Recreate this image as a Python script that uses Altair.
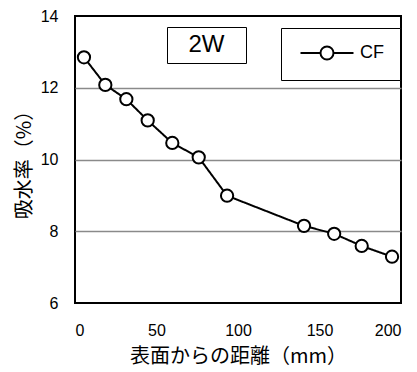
import altair as alt
import pandas as pd

# data
distance = [5.5, 18.6, 31.5, 44.6, 59.7, 75.9, 93.3, 140.5, 159.0, 175.9, 194.5]
absorption = [12.85, 12.08, 11.68, 11.09, 10.46, 10.06, 8.99, 8.15, 7.93, 7.59, 7.29]
series_name = "CF"
panel_name = "2W"
x_ticks = [0, 50, 100, 150, 200]
y_ticks = [6, 8, 10, 12, 14]

df = pd.DataFrame({
    "distance": distance,
    "absorption": absorption,
    "series": [series_name] * len(distance),
    "panel": [panel_name] * len(distance),
})

LATIN = "Liberation Sans"
CJK = "Noto Sans CJK JP"

# legend glyph: line - circle - line (offset so label sits to its right)
LEG_PATH = ("M-0.733,0L1.933,0M3.667,0L6.333,0"
            "M3.667,0A0.867,0.867,0,1,1,1.933,0A0.867,0.867,0,1,1,3.667,0Z")
# invisible spacer glyph for the "2W" box
BOX_PATH = "M-1,-1L4.583,-1L4.583,1L-1,1Z"

x_enc = alt.X(
    "distance:Q",
    scale=alt.Scale(domain=[0, 200], nice=False),
    axis=alt.Axis(values=x_ticks, title="表面からの距離（mm）", grid=False,
                  ticks=False, domain=False, labelPadding=19, titlePadding=8),
)
y_enc = alt.Y(
    "absorption:Q",
    scale=alt.Scale(domain=[6, 14], nice=False),
    axis=alt.Axis(values=y_ticks, title="吸水率（%）", grid=True,
                  gridColor="#8a8a8a", gridWidth=1.5,
                  gridOpacity={"condition": {"test": "datum.value <= 6 || datum.value >= 14", "value": 0}, "value": 1},
                  ticks=False, domain=False, labelPadding=17, titlePadding=6),
)

line = alt.Chart(df).mark_line(color="black", strokeWidth=2).encode(
    x=x_enc, y=y_enc,
    strokeDash=alt.StrokeDash(
        "panel:N", scale=alt.Scale(range=[[1, 0]]),
        legend=alt.Legend(
            title=None, orient="none", legendX=92, legendY=11,
            strokeColor="black", fillColor="white", padding=6,
            symbolType=BOX_PATH, symbolSize=576, symbolOpacity=0,
            symbolStrokeWidth=0,
            labelOffset=9.5, labelAlign="center",
            labelFont=LATIN, labelFontSize=24, labelColor="black",
        ),
    ),
)

points = alt.Chart(df).mark_point(
    shape="circle", filled=False, fill="white", fillOpacity=1, opacity=1,
    strokeWidth=2, size=150,
).encode(
    x=x_enc, y=y_enc,
    stroke=alt.Stroke(
        "series:N", scale=alt.Scale(range=["black"]),
        legend=alt.Legend(
            title=None, orient="none", legendX=206, legendY=12,
            strokeColor="black", fillColor="white", padding=16,
            symbolType=LEG_PATH, symbolSize=225, symbolStrokeWidth=2,
            symbolFillColor="white", symbolStrokeColor="black",
            labelOffset=45, labelFont=LATIN, labelFontSize=18, labelColor="black",
        ),
    ),
)

chart = alt.layer(line, points).properties(
    width=326, height=287,
    autosize=alt.AutoSizeParams(type="none"),
    padding={"left": 67, "top": 8, "right": 8, "bottom": 70},
).configure_view(
    stroke="black", strokeWidth=2
).configure_axis(
    labelFont=LATIN, labelFontSize=16, labelColor="black",
    titleFont=CJK, titleFontSize=20, titleFontWeight="normal", titleColor="black",
)

chart.save("out.html", embed_options={"renderer": "svg", "actions": False})
